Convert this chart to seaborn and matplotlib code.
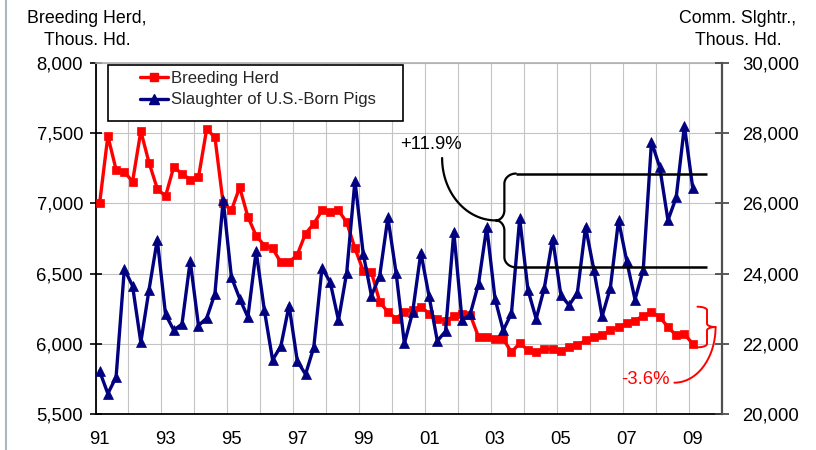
import numpy as np
import pandas as pd
import matplotlib
matplotlib.use("Agg")
import matplotlib.pyplot as plt
import seaborn as sns
from matplotlib.lines import Line2D
from matplotlib.patches import Rectangle

# ---------------- data (quarterly, 1991 Q1 - 2009 Q1) ----------------
start_year = 1991
breeding_herd = [
    7000, 7480, 7240, 7225, 7155, 7515, 7290, 7105, 7050, 7260, 7210, 7170,
    7185, 7530, 7470, 7000, 6950, 7115, 6905, 6770, 6700, 6680, 6580, 6580,
    6635, 6785, 6855, 6950, 6940, 6950, 6865, 6680, 6520, 6510, 6300, 6225,
    6180, 6230, 6240, 6265, 6215, 6180, 6165, 6195, 6215, 6205, 6050, 6050,
    6035, 6035, 5940, 6005, 5955, 5945, 5965, 5960, 5950, 5975, 5990, 6025,
    6045, 6065, 6095, 6120, 6145, 6165, 6200, 6225, 6190, 6120, 6060, 6070,
    6000,
]
slaughter = [
    21220, 20580, 21050, 24130, 23650, 22040, 23540, 24970, 22840, 22390,
    22560, 24360, 22520, 22730, 23430, 26100, 23900, 23290, 22760, 24640,
    22960, 21540, 21930, 23090, 21510, 21130, 21900, 24170, 23750, 22670,
    24030, 26650, 24570, 23370, 23930, 25600, 24010, 22010, 22900, 24600,
    23350, 22080, 22360, 25190, 22670, 22850, 23710, 25330, 23290, 22380,
    22870, 25570, 23540, 22710, 23600, 25000, 23380, 23100, 23450, 25330,
    24110, 22780, 23590, 25520, 24350, 23260, 24110, 27760, 27030, 25520,
    26170, 28210, 26450,
]
series_names = ["Breeding Herd", "Slaughter of U.S.-Born Pigs"]
year_ticks = list(range(1991, 2011))
label_years = [1991, 1993, 1995, 1997, 1999, 2001, 2003, 2005, 2007, 2009]
year_labels = ["91", "93", "95", "97", "99", "01", "03", "05", "07", "09"]
left_ticks = [5500, 6000, 6500, 7000, 7500, 8000]
right_ticks = [20000, 22000, 24000, 26000, 28000, 30000]

# annotation levels
slaughter_hi, slaughter_lo = 26850, 24180
herd_hi, herd_lo = 6264, 5975

# ---------------- style ----------------
sns.set_theme(style="white")
plt.rcParams["font.family"] = ["Liberation Sans", "DejaVu Sans"]

RED = "#ff0000"
NAVY = "#000080"

n = len(breeding_herd)
t = start_year + (np.arange(n) + 0.5) / 4.0
df = pd.DataFrame({"t": t, "herd": breeding_herd, "slaughter": slaughter})

W, H = 816, 450
fig = plt.figure(figsize=(W / 100, H / 100), dpi=100)
fig.patch.set_facecolor("white")
ax1 = fig.add_axes([95.5 / W, 1 - 414 / H, 626 / W, 351 / H])
ax1.set_facecolor("white")
ax2 = ax1.twinx()

sns.lineplot(data=df, x="t", y="herd", ax=ax1, color=RED, marker="s",
             markersize=6.3, linewidth=2.4, markeredgecolor=RED,
             markeredgewidth=0.5, legend=False, zorder=3)
sns.lineplot(data=df, x="t", y="slaughter", ax=ax2, color=NAVY, marker="^",
             markersize=6.5, linewidth=2.4, markeredgecolor=NAVY,
             markeredgewidth=0.5, legend=False, zorder=3)

for ax in (ax1, ax2):
    ax.set_xlabel("")
    ax.set_ylabel("")

ax1.set_xlim(1991, 2010)
ax1.set_ylim(5500, 8000)
ax2.set_ylim(20000, 30000)

# x ticks: marks at year boundaries, labels at first-quarter of odd years
ax1.set_xticks(year_ticks)
ax1.set_xticklabels([""] * len(year_ticks))
ax1.set_xticks([y + 0.125 for y in label_years], minor=True)
ax1.set_xticklabels(year_labels, minor=True)
ax1.tick_params(axis="x", which="major", direction="inout", length=8.6,
                width=1.2, color="black")
ax1.tick_params(axis="x", which="minor", length=0, pad=12.5,
                labelsize=13.3, labelcolor="black")

ax1.set_yticks(left_ticks)
ax1.set_yticklabels([f"{v:,}" for v in left_ticks])
ax1.tick_params(axis="y", direction="inout", length=8, width=1.2, pad=5,
                labelsize=13.3, color="black", labelcolor="black")
ax2.set_yticks(right_ticks)
ax2.set_yticklabels([f"{v:,}" for v in right_ticks])
ax2.tick_params(axis="y", direction="inout", length=10, width=1.2, pad=10,
                labelsize=13.3, color="#404040", labelcolor="black")

ax1.grid(True, which="major", axis="both", color="#c4c4c4", linewidth=0.8)
ax1.set_axisbelow(True)
ax2.grid(False)

for s in ("left", "bottom"):
    ax1.spines[s].set_color("black")
    ax1.spines[s].set_linewidth(1.3)
ax1.spines["right"].set_visible(False)
ax1.spines["top"].set_color("#b0b0b0")
ax1.spines["top"].set_linewidth(1.2)
for s in ("left", "bottom", "top"):
    ax2.spines[s].set_visible(False)
ax2.spines["right"].set_color("#505050")
ax2.spines["right"].set_linewidth(1.6)


# ---------------- annotations ----------------
def brace(x_end, x_vert, x_tip, y_top, y_bot, ry, m=24):
    y_mid = (y_top + y_bot) / 2.0
    ph = np.linspace(0, np.pi / 2, m)
    xa = x_end + (x_vert - x_end) * np.sin(ph)
    ya = y_top - ry * (1 - np.cos(ph))
    xb = x_vert + (x_tip - x_vert) * (1 - np.cos(ph))
    yb = y_mid + ry - ry * np.sin(ph)
    xs = np.concatenate([xa, xb])
    ys = np.concatenate([ya, yb])
    xs = np.concatenate([xs, xs[::-1]])
    ys = np.concatenate([ys, (2 * y_mid - ys)[::-1]])
    return xs, ys


def quarter(x0, y0, x1, y1, m=40):
    # starts vertical at (x0, y0), ends horizontal at (x1, y1)
    ph = np.linspace(0, np.pi / 2, m)
    xs = x1 + (x0 - x1) * np.cos(ph)
    ys = y0 + (y1 - y0) * np.sin(ph)
    return xs, ys


# black bracket (slaughter, right axis)
ax2.plot([2003.76, 2009.55], [slaughter_hi, slaughter_hi], color="black",
         lw=1.8, zorder=6, solid_capstyle="butt")
ax2.plot([2003.76, 2009.55], [slaughter_lo, slaughter_lo], color="black",
         lw=1.8, zorder=6, solid_capstyle="butt")
bx, by = brace(2003.76, 2003.41, 2003.15, slaughter_hi, slaughter_lo, 290)
ax2.plot(bx, by, color="black", lw=1.6, zorder=6)
lx, ly = quarter(2001.52, 27293, 2003.15, (slaughter_hi + slaughter_lo) / 2)
ax2.plot(lx, ly, color="black", lw=1.6, zorder=6)
ax2.text(2001.17, 27664, "+11.9%", ha="center", va="center", fontsize=13.3,
         color="black", zorder=7)

# red bracket (breeding herd, left axis)
rx, ry_ = brace(2009.27, 2009.56, 2009.82, herd_hi, herd_lo, 24)
ax1.plot(rx, ry_, color=RED, lw=1.4, zorder=6, clip_on=False)
lx, ly = quarter(2009.82, (herd_hi + herd_lo) / 2, 2008.57, 5723)
ax1.plot(lx, ly, color=RED, lw=1.4, zorder=6, clip_on=False)
ax1.text(2007.68, 5745, "-3.6%", ha="center", va="center", fontsize=13.3,
         color=RED, zorder=7)

# ---------------- legend ----------------
handles = [
    Line2D([], [], color=RED, marker="s", markersize=6.3, lw=2.4,
           markeredgecolor=RED),
    Line2D([], [], color=NAVY, marker="^", markersize=6.5, lw=2.4,
           markeredgecolor=NAVY),
]
ax2.add_patch(Rectangle((0.02, 0.8348), 0.4712, 0.1595, transform=ax2.transAxes,
                        facecolor="white", edgecolor="black", lw=1.2,
                        zorder=8, clip_on=False))
leg = ax2.legend(handles, series_names, loc="upper left",
                 bbox_to_anchor=(0.0711, 0.9778), frameon=False, borderpad=0,
                 borderaxespad=0, handlelength=1.7, handletextpad=0.15,
                 labelspacing=0.4, fontsize=12)
leg.set_zorder(9)

# ---------------- axis titles ----------------
fig.text(87 / W, 1 - 23.3 / H, "Breeding Herd,", ha="center", va="baseline",
         fontsize=12.8, color="black")
fig.text(87 / W, 1 - 45 / H, "Thous. Hd.", ha="center", va="baseline",
         fontsize=12.8, color="black")
fig.text(738 / W, 1 - 23.3 / H, "Comm. Slghtr.,", ha="center", va="baseline",
         fontsize=12.8, color="black")
fig.text(738 / W, 1 - 45 / H, "Thous. Hd.", ha="center", va="baseline",
         fontsize=12.8, color="black")

# left border line of the original slide
fig.add_artist(Line2D([6 / W, 6 / W], [0, 1], transform=fig.transFigure,
                      color="#a8b8c0", lw=1.5))

fig.savefig("out.png", dpi=100, facecolor="white")
